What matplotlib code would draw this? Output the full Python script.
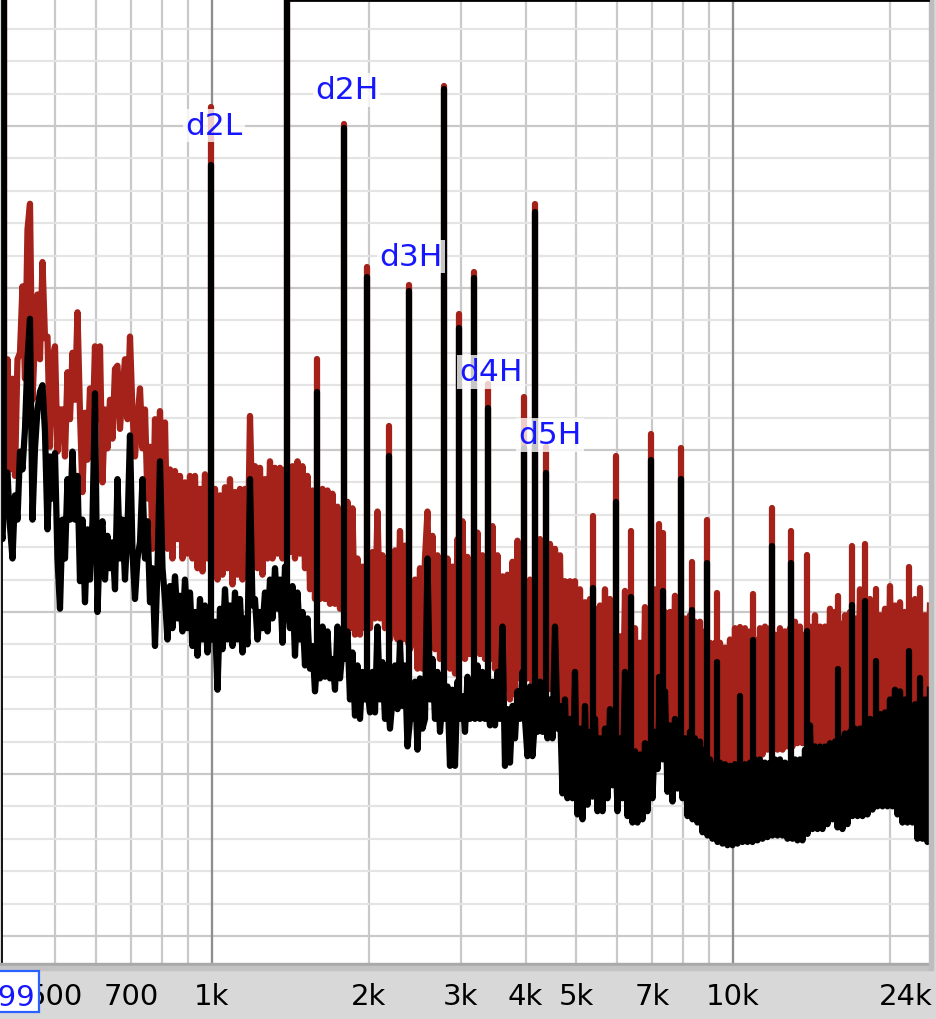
import numpy as np
import matplotlib
matplotlib.use("Agg")
import matplotlib.pyplot as plt
from matplotlib.lines import Line2D
from matplotlib.patches import Rectangle
from matplotlib.ticker import NullFormatter

plt.rcParams['font.family'] = ['DejaVu Sans']

# ---------------- data ----------------
# noise traces are sampled on a log-spaced frequency grid between these ends (Hz)
noise_f_start = 391.8
noise_f_stop = 23874.0

red_db = [
    -41.2, -41.8, -39.3, -34.4, -41.2, -35.6, -41.6, -34.4, -34.0, -29.9,
    -35.6, -26.4, -24.8, -36.9, -33.1, -30.4, -34.4, -28.4, -33.1, -33.0,
    -39.8, -34.4, -33.6, -40.1, -37.5, -37.5, -40.4, -35.2, -38.1, -34.0,
    -36.9, -31.5, -37.7, -42.6, -37.7, -40.6, -36.2, -39.3, -33.6, -38.1,
    -33.6, -42.0, -37.5, -39.9, -36.9, -39.3, -35.0, -34.8, -38.7, -36.4,
    -34.4, -38.1, -33.0, -37.7, -40.4, -38.1, -36.2, -39.9, -37.5, -43.0,
    -39.8, -46.1, -38.1, -43.0, -37.6, -44.3, -38.3, -46.1, -41.2, -46.7,
    -41.3, -45.5, -41.6, -46.7, -42.0, -46.4, -41.6, -46.7, -41.6, -47.3,
    -42.4, -47.5, -41.5, -46.7, -42.4, -47.3, -42.4, -48.0, -42.8, -47.7,
    -42.3, -47.3, -41.8, -48.3, -42.6, -47.7, -42.4, -48.0, -42.4, -47.7,
    -37.9, -44.3, -41.0, -47.3, -41.1, -47.7, -41.8, -46.7, -40.7, -46.7,
    -41.1, -46.4, -41.1, -46.7, -41.2, -46.1, -46.3, -41.0, -46.7, -40.7,
    -46.4, -41.0, -47.3, -41.6, -48.6, -42.5, -49.2, -42.6, -49.2, -42.4,
    -49.2, -42.5, -49.5, -42.7, -49.5, -43.5, -49.8, -45.9, -49.2, -43.2,
    -51.0, -43.6, -51.4, -46.7, -51.4, -47.2, -51.0, -50.4, -51.0, -46.3,
    -50.4, -43.8, -50.4, -46.5, -51.0, -47.8, -51.7, -51.0, -46.2, -51.7,
    -45.0, -51.7, -45.9, -51.7, -52.3, -51.7, -48.0, -53.5, -47.3, -53.5,
    -46.7, -43.8, -51.7, -45.3, -52.3, -46.5, -52.9, -51.7, -52.3, -46.7,
    -53.5, -47.2, -53.8, -45.5, -52.9, -44.4, -52.9, -46.6, -52.6, -52.0,
    -52.3, -45.1, -52.6, -46.5, -52.9, -52.3, -52.9, -44.7, -53.5, -46.5,
    -54.1, -47.8, -54.8, -47.7, -55.4, -46.9, -55.1, -45.6, -54.1, -45.9,
    -54.1, -54.1, -48.0, -54.8, -54.1, -54.1, -45.5, -54.8, -54.8, -54.8,
    -45.8, -54.8, -46.1, -55.4, -46.5, -56.3, -48.1, -56.9, -48.1, -57.2,
    -48.1, -57.5, -48.6, -57.8, -49.4, -57.8, -49.2, -57.8, -49.8, -57.8,
    -49.6, -57.8, -48.6, -58.0, -49.2, -58.1, -50.1, -58.1, -51.5, -58.1,
    -48.7, -58.3, -50.4, -58.5, -51.0, -58.8, -51.9, -58.8, -49.7, -58.6,
    -51.9, -58.1, -48.6, -57.8, -49.2, -57.2, -50.0, -56.9, -50.0, -56.9,
    -49.0, -57.8, -50.7, -58.1, -50.4, -58.5, -50.2, -58.5, -50.6, -58.8,
    -50.6, -59.1, -51.2, -59.1, -51.9, -59.2, -51.9, -59.4, -51.9, -59.4,
    -52.2, -59.6, -51.7, -59.6, -51.0, -59.4, -51.7, -59.4, -51.0, -59.1,
    -51.2, -59.1, -51.7, -58.8, -51.0, -58.8, -50.9, -58.5, -51.0, -58.5,
    -51.4, -58.5, -51.0, -58.5, -51.2, -58.3, -51.0, -58.3, -50.6, -58.1,
    -50.9, -58.1, -51.4, -58.1, -50.9, -58.1, -50.2, -58.0, -50.9, -58.0,
    -50.9, -58.0, -49.8, -57.8, -50.0, -57.8, -50.7, -57.8, -50.2, -57.7,
    -50.0, -57.7, -50.4, -57.5, -48.6, -57.5, -49.8, -57.5, -49.2, -57.4,
    -50.1, -57.2, -50.2, -57.2, -49.8, -57.1, -48.4, -57.1, -49.6, -56.9,
    -49.4, -56.9, -50.0, -56.9, -50.4, -56.9, -49.2, -56.9, -50.4, -56.9,
    -50.2, -56.9, -49.6,
]

black_db = [
    -44.3, -45.5, -41.8, -41.4, -44.7, -46.7, -42.8, -44.3, -40.1, -41.2,
    -38.7, -34.4, -31.9, -44.3, -39.9, -37.5, -36.4, -36.0, -38.9, -44.9,
    -40.4, -43.0, -40.2, -46.7, -49.8, -44.3, -46.7, -41.8, -44.3, -40.1,
    -44.3, -41.6, -48.1, -44.3, -49.4, -44.9, -48.0, -44.4, -36.5, -50.0,
    -45.5, -44.4, -48.0, -45.3, -47.3, -45.7, -48.6, -41.8, -46.7, -44.3,
    -48.0, -44.9, -39.1, -46.3, -49.2, -46.7, -45.7, -41.8, -46.7, -44.4,
    -49.4, -47.3, -52.1, -47.3, -40.7, -47.3, -49.2, -51.7, -48.4, -51.0,
    -47.8, -50.4, -49.0, -51.2, -48.0, -51.0, -48.8, -52.1, -50.0, -52.7,
    -49.2, -51.7, -49.6, -52.5, -50.4, -51.7, -50.6, -54.8, -49.8, -52.3,
    -48.6, -51.7, -49.6, -52.1, -48.8, -51.7, -49.2, -52.5, -50.4, -52.0,
    -41.8, -49.6, -49.2, -51.7, -50.0, -51.0, -48.8, -51.2, -48.0, -50.4,
    -47.3, -49.8, -48.0, -51.9, -47.2, -49.2, -51.0, -48.4, -52.7, -48.8,
    -51.7, -50.0, -53.3, -50.4, -53.5, -52.1, -54.9, -52.7, -54.1, -50.9,
    -54.0, -51.2, -54.1, -52.9, -54.8, -50.9, -54.1, -52.3, -52.9, -51.2,
    -55.4, -52.5, -56.4, -53.3, -56.6, -53.7, -55.4, -54.8, -56.2, -53.7,
    -56.2, -50.9, -55.4, -53.1, -56.6, -54.9, -57.2, -55.4, -53.3, -56.0,
    -51.9, -55.8, -53.3, -58.3, -56.6, -56.6, -54.3, -58.5, -54.1, -57.2,
    -56.6, -46.7, -55.4, -52.9, -56.6, -53.7, -57.4, -55.4, -56.6, -54.6,
    -59.5, -54.8, -59.5, -54.3, -56.6, -55.2, -57.4, -54.0, -56.6, -55.4,
    -56.6, -53.3, -56.6, -53.7, -56.6, -55.4, -57.0, -54.3, -57.0, -53.7,
    -56.6, -50.9, -59.5, -56.0, -59.3, -55.8, -57.8, -54.9, -56.6, -53.7,
    -56.6, -58.9, -54.6, -58.9, -56.6, -57.4, -54.3, -57.4, -56.6, -57.8,
    -55.4, -57.8, -50.9, -57.2, -55.8, -61.2, -55.4, -61.5, -56.6, -61.5,
    -53.7, -62.5, -57.2, -62.8, -55.8, -61.9, -57.4, -61.4, -56.6, -62.3,
    -57.8, -62.3, -57.2, -61.5, -56.0, -60.7, -57.2, -62.3, -57.8, -61.5,
    -53.7, -62.6, -57.8, -63.0, -58.6, -63.0, -58.8, -62.8, -58.1, -62.3,
    -58.1, -61.5, -57.4, -59.7, -54.6, -59.1, -54.9, -61.1, -57.0, -61.7,
    -56.6, -60.9, -56.8, -61.5, -57.8, -62.6, -57.4, -62.8, -57.8, -63.0,
    -58.0, -63.6, -58.5, -63.8, -59.1, -64.0, -59.4, -64.2, -59.3, -64.3,
    -59.4, -64.4, -59.5, -64.4, -59.4, -64.3, -59.5, -64.2, -59.4, -64.2,
    -59.3, -64.2, -59.1, -64.1, -59.1, -64.0, -59.3, -63.9, -59.3, -63.8,
    -59.1, -63.8, -59.1, -63.8, -59.3, -64.0, -59.3, -64.0, -59.1, -64.1,
    -59.1, -64.1, -58.5, -63.7, -57.0, -63.4, -58.3, -63.4, -58.3, -63.4,
    -58.3, -63.1, -58.1, -62.8, -58.0, -63.3, -57.8, -63.4, -57.5, -63.1,
    -57.4, -62.6, -57.2, -62.6, -57.2, -62.6, -56.9, -62.5, -56.6, -62.2,
    -56.6, -62.0, -56.3, -62.0, -56.2, -62.0, -55.4, -62.0, -54.8, -62.5,
    -54.9, -63.0, -55.4, -63.0, -56.0, -63.0, -55.7, -64.0, -55.4, -64.0,
    -55.4, -64.2, -54.8,
]

# discrete tones / distortion products (Hz) and their peak levels
spike_freq = [399, 995, 1393, 1591, 1792, 1984, 2186, 2388, 2787, 2979,
              3183, 3382, 3969, 4168, 4375, 5385, 5961, 6370, 6959, 7209,
              7338, 7945, 8340, 8912, 9314, 10311, 10921, 11878, 12917, 13863,
              15899, 16914, 17914, 18806, 21758, 22842]
spike_red_db = [-8.0, -18.8, -8.0, -34.4, -19.9, -28.7, -38.5, -29.8, -17.5, -31.6,
                -29.0, -35.9, -36.7, -24.8, -39.8, -44.1, -40.4, -45.0, -39.0, -44.6,
                -45.1, -39.9, -46.9, -44.3, -48.8, -50.9, -48.9, -43.6, -45.0, -46.5,
                -49.0, -45.9, -45.8, -48.6, -47.2, -48.5]
spike_black_db = [-8.0, -22.4, -8.0, -36.4, -20.1, -29.3, -40.4, -30.2, -17.7, -32.5,
                  -29.4, -37.4, -39.9, -25.3, -41.4, -48.5, -43.2, -49.1, -40.6, -54.0,
                  -48.7, -41.8, -49.9, -47.0, -53.1, -55.2, -51.7, -45.9, -47.0, -51.2,
                  -53.5, -49.6, -49.3, -53.0, -52.4, -54.1]

label_text = ["d2L", "d2H", "d3H", "d4H", "d5H"]
label_freq = [1009, 1812, 2410, 3431, 4453]
label_db = [-20.5, -18.3, -28.6, -35.7, -39.6]

tick_freq = [500, 700, 1000, 2000, 3000, 4000, 5000, 7000, 10000]
tick_text = ["500", "700", "1k", "2k", "3k", "4k", "5k", "7k", "10k"]
minor_grid_freq = [600, 800, 900, 6000, 8000, 9000, 20000]
dark_grid_freq = [1000, 10000]
marker_text = "399"
end_text = "24k"

# ---------------- figure ----------------
W, H = 936, 1020
RED = '#a5221a'
BLUE = '#1717ff'

fig = plt.figure(figsize=(W / 100, H / 100), dpi=100, facecolor='#d8d8d8')
ax = fig.add_axes([2 / W, 56 / H, 927 / W, 964 / H])
ax.set_facecolor('white')
ax.set_xscale('log')
ax.set_xlim(395.3, 23770)
ax.set_ylim(-71.67, -12.16)

# grids
ax.set_xticks(tick_freq)
ax.set_xticklabels(tick_text)
ax.set_xticks(minor_grid_freq, minor=True)
ax.xaxis.set_minor_formatter(NullFormatter())
ax.set_yticks([-70, -60, -50, -40, -30, -20])
ax.set_yticks([v for v in range(-70, -12, 2) if v % 10 != 0], minor=True)
ax.set_axisbelow(True)
ax.grid(axis='x', which='both', color='#c9c9c9', lw=1.6)
ax.grid(axis='y', which='minor', color='#e4e4e4', lw=1.6)
ax.grid(axis='y', which='major', color='#c9c9c9', lw=1.6)
for f in dark_grid_freq:
    ax.axvline(f, color='#8e8e8e', lw=1.6, zorder=0.8)

ax.tick_params(axis='x', which='both', length=0, pad=13.5, labelsize=21, colors='black')
ax.tick_params(axis='y', which='both', length=0, labelleft=False)
for s in ['top', 'right', 'bottom']:
    ax.spines[s].set_visible(False)
ax.spines['left'].set_color('black')
ax.spines['left'].set_linewidth(1.3)

# traces
red_freq = np.geomspace(noise_f_start, noise_f_stop, len(red_db))
black_freq = np.geomspace(noise_f_start, noise_f_stop, len(black_db))
LW = 4.5

ax.plot(red_freq, red_db, color=RED, lw=LW, solid_joinstyle='round', zorder=2)
for f, pk in zip(spike_freq, spike_red_db):
    base = np.interp(f, red_freq, red_db)
    ax.plot([f, f], [base, pk], color=RED, lw=LW, solid_capstyle='round', zorder=2.1)

ax.plot(black_freq, black_db, color='black', lw=LW, solid_joinstyle='round', zorder=3)
for f, pk in zip(spike_freq, spike_black_db):
    base = np.interp(f, black_freq, black_db)
    ax.plot([f, f], [base, pk], color='black', lw=LW, solid_capstyle='round', zorder=3.1)

# annotations
for t, f, d in zip(label_text, label_freq, label_db):
    ax.text(f, d, t, color=BLUE, fontsize=22.5, ha='center', va='baseline', zorder=6,
            bbox=dict(facecolor='white', alpha=0.78, edgecolor='none', pad=1.5))

# decorations outside the plot
fig.add_artist(Rectangle((0, (H - 967) / H), 929 / W, 3 / H, color='#a9a9a9', zorder=1))
fig.add_artist(Rectangle((0, (H - 971) / H), 929 / W, 4 / H, color='#c3c3c3', zorder=1))
fig.add_artist(Rectangle((929 / W, (H - 971) / H), 4 / W, 971 / H, color='#bdbdbd', zorder=1))
fig.add_artist(Line2D([288 / W, 928 / W], [1 - 1.2 / H, 1 - 1.2 / H], color='black', lw=2.0, zorder=4))

fig.text(933 / W, 37 / H, end_text, fontsize=21, ha='right', va='top', color='black')

fig.add_artist(Rectangle((-4 / W, (H - 1013) / H), 43 / W, 41 / H, facecolor='white',
                         edgecolor='#2a62ff', lw=1.6, zorder=5))
fig.text(8 / W, (H - 1006) / H, marker_text, fontsize=21, ha='center', va='baseline',
         color=BLUE, zorder=6)

fig.savefig('out.png', dpi=100, facecolor=fig.get_facecolor())
